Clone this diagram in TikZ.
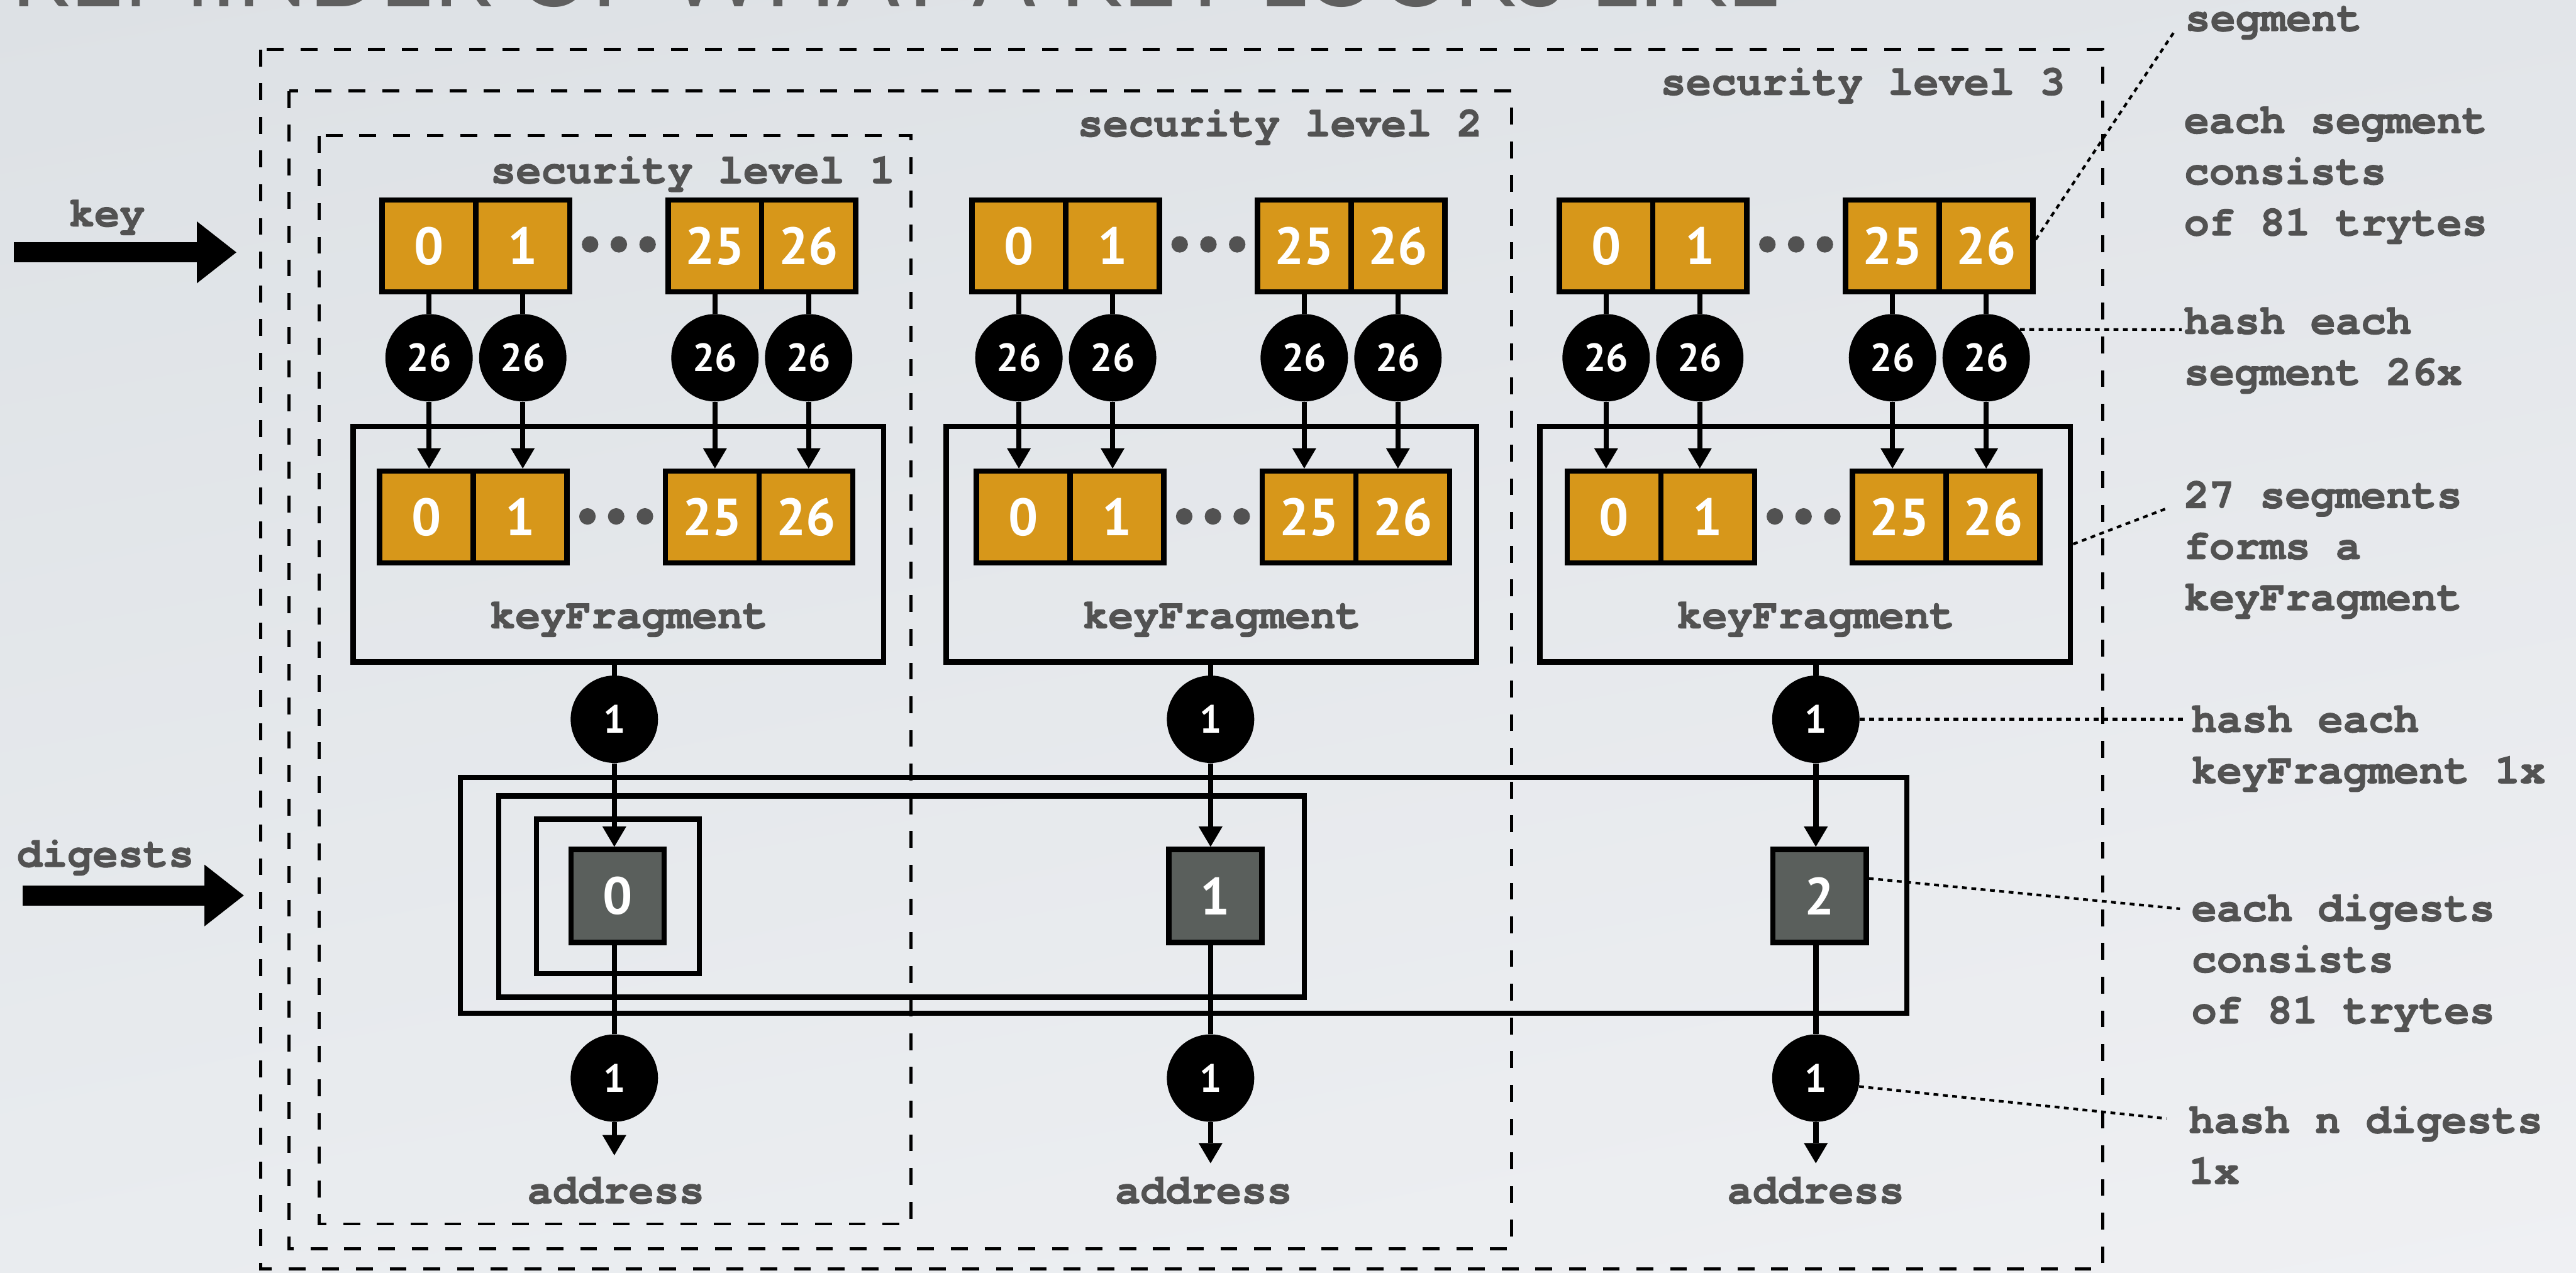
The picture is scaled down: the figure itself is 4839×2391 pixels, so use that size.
\documentclass[tikz,border=0pt]{standalone}
\usepackage{fontspec}
\usetikzlibrary{arrows.meta,calc,shadings}
\newfontfamily\courfont{texgyrecursor-bold.otf}[FakeBold=1.8]
\newfontfamily\digfont{PT Sans}
\newfontfamily\titlefont{Lato}
\definecolor{orng}{RGB}{215,151,26}
\definecolor{dgst}{RGB}{90,95,92}
\definecolor{txtgray}{RGB}{82,82,82}
\definecolor{titlegray}{RGB}{95,95,95}
\definecolor{bgTL}{RGB}{221,225,229}
\definecolor{bgTR}{RGB}{226,229,233}
\definecolor{bgBL}{RGB}{233,236,239}
\definecolor{bgBR}{RGB}{239,240,243}
\begin{document}
\begin{tikzpicture}[x=0.01cm,y=-0.01cm,
  cell/.style={draw=black,line width=2.85pt,fill=orng,minimum width=1.76cm,minimum height=1.72cm,inner sep=0pt,text=white,font=\digfont\bfseries\fontsize{28pt}{28pt}\selectfont},
  hashc/.style={circle,fill=black,minimum size=1.64cm,inner sep=0pt,text=white,font=\digfont\bfseries\fontsize{21pt}{21pt}\selectfont},
  kfbox/.style={draw=black,line width=2.85pt,minimum width=9.96cm,minimum height=4.42cm,inner sep=0pt},
  dig/.style={draw=black,line width=2.85pt,fill=dgst,minimum size=1.75cm,inner sep=0pt,text=white,font=\digfont\bfseries\fontsize{28pt}{28pt}\selectfont},
  conn/.style={line width=2.85pt},
  arr/.style={line width=2.85pt,-{Triangle[length=3.8mm,width=4.5mm,line width=0pt]}},
  lab/.style={text=txtgray,font=\courfont\fontsize{22.5pt}{27pt}\selectfont,inner sep=0pt},
  secbox/.style={line width=1.6pt,dash pattern=on 9pt off 9pt},
  leader/.style={line width=1.4pt,dash pattern=on 2.6pt off 2.4pt},
  dotc/.style={circle,fill=txtgray,minimum size=0.31cm,inner sep=0pt},
  bigarr/.style={line width=10.8pt,-{Triangle[length=7.4mm,width=11.6mm,line width=0pt]}}
]
\useasboundingbox (0,0) rectangle (4839,2391);
\shade[upper left=bgTL,upper right=bgTR,lower left=bgBL,lower right=bgBR] (0,0) rectangle (4839,2391);
\clip (0,0) rectangle (4839,2391);

% title (mostly cut off at the top)
\node[anchor=base west,inner sep=0pt,text=titlegray] (title) at (20,12)
  {\resizebox{33.2cm}{!}{\titlefont REMINDER OF WHAT A KEY LOOKS LIKE}};

% security level frames
\draw[secbox] (490,93) rectangle (3950,2383);
\draw[secbox] (543,171) rectangle (2839,2346);
\draw[secbox] (600,255) rectangle (1711,2299);
\node[lab,anchor=base east] (sl1) at (1682,344) {security level 1};
\node[lab,anchor=base east] (sl2) at (2785,256) {security level 2};
\node[lab,anchor=base east] (sl3) at (3880,178) {security level 3};

% digest containers
\draw[conn] (865,1460) rectangle (3582,1903);
\draw[conn] (937,1495) rectangle (2450,1873);
\draw[conn] (1008,1539) rectangle (1314,1829);

% input arrows
\coordinate (ks) at (26,474);
\coordinate (ke) at (444,474);
\draw[bigarr] (ks) -- (ke);
\node[lab,anchor=base] (keylab) at (201,425) {key};
\coordinate (ds) at (42,1682);
\coordinate (de) at (458,1682);
\draw[bigarr] (ds) -- (de);
\node[lab,anchor=base] (diglab) at (198,1628) {digests};

% columns
\foreach \c/\lt/\rt/\lb/\rb/\kx/\X/\dx/\ty/\ax/\dn in {
 1/713/1250/708/1245/1161.5/1154/1160/2170/1157/0,
 2/1821/2357/1829/2366/2275.5/2274/2283/2185/2261/1,
 3/2924/3462/2939/3475/3391/3411/3418/2185/3411/2}{
  \node[kfbox] (kf\c) at (\kx,1022) {};
  \node[cell] (t\c x0) at (\lt+93,462) {0};
  \node[cell] (t\c x1) at (\lt+269,462) {1};
  \node[cell] (t\c x25) at (\rt+93,462) {25};
  \node[cell] (t\c x26) at (\rt+269,462) {26};
  \node[cell] (b\c x0) at (\lb+93,971) {0};
  \node[cell] (b\c x1) at (\lb+269,971) {1};
  \node[cell] (b\c x25) at (\rb+93,971) {25};
  \node[cell] (b\c x26) at (\rb+269,971) {26};
  \foreach \d in {-54,0,54}{
    \node[dotc] (td\c x\d) at ({(\lt+362+\rt)/2+\d},459) {};
    \node[dotc] (bd\c x\d) at ({(\lb+362+\rb)/2+\d},970) {};
  }
  \node[hashc] (h\c x0) at (\lt+93,672) {26};
  \node[hashc] (h\c x1) at (\lt+269,672) {26};
  \node[hashc] (h\c x25) at (\rt+93,672) {26};
  \node[hashc] (h\c x26) at (\rt+269,672) {26};
  \foreach \k in {0,1,25,26}{
    \draw[conn] (t\c x\k) -- (h\c x\k);
    \draw[arr] (h\c x\k) -- (h\c x\k |- b\c x\k.north);
  }
  \node[lab,anchor=base] (kft\c) at (\kx+20,1180) {keyFragment};
  \node[hashc] (m\c) at (\X,1351) {1};
  \node[dig] (d\c) at (\dx,1683) {\dn};
  \node[hashc] (n\c) at (\X,2025) {1};
  \coordinate (e\c) at (\X,\ty);
  \node[lab,anchor=base] (a\c) at (\ax,2260) {address};
  \draw[conn] (kf\c.south -| m\c) -- (m\c);
  \draw[arr] (m\c) -- (m\c |- d\c.north);
  \draw[conn] (m\c |- d\c.south) -- (n\c);
  \draw[arr] (n\c) -- (e\c);
}

% annotations
\node[lab,anchor=base west] (an0) at (4104,58) {segment};
\foreach \t [count=\i] in {each segment,consists,of 81 trytes}
  \node[lab,anchor=base west] (an1x\i) at (4102,250+96*\i-96) {\t};
\foreach \t [count=\i] in {hash each,segment 26x}
  \node[lab,anchor=base west] (an2x\i) at (4102,627+96*\i-96) {\t};
\foreach \t [count=\i] in {27 segments,forms a,keyFragment}
  \node[lab,anchor=base west] (an3x\i) at (4102,954+96*\i-96) {\t};
\foreach \t [count=\i] in {hash each,keyFragment 1x}
  \node[lab,anchor=base west] (an4x\i) at (4116,1375+96*\i-96) {\t};
\foreach \t [count=\i] in {each digests,consists,of 81 trytes}
  \node[lab,anchor=base west] (an5x\i) at (4116,1730+96*\i-96) {\t};
\foreach \t [count=\i] in {hash n digests,1x}
  \node[lab,anchor=base west] (an6x\i) at (4111,2128+96*\i-96) {\t};

% leader lines
\coordinate (l1e) at (4086,57);
\draw[leader] ($(t3x26.east)+(0,-12)$) -- (l1e);
\coordinate (l2e) at (4098,619);
\draw[leader] (h3x26.40) -- (l2e);
\coordinate (l3e) at (4070,955);
\draw[leader] (kf3.east) -- (l3e);
\coordinate (l4e) at (4100,1351);
\draw[leader] (m3.east) -- (l4e);
\coordinate (l5e) at (4095,1707);
\draw[leader] ($(d3.east)+(0,-33)$) -- (l5e);
\coordinate (l6e) at (4070,2101);
\draw[leader] (n3.-11) -- (l6e);
\end{tikzpicture}
\end{document}
